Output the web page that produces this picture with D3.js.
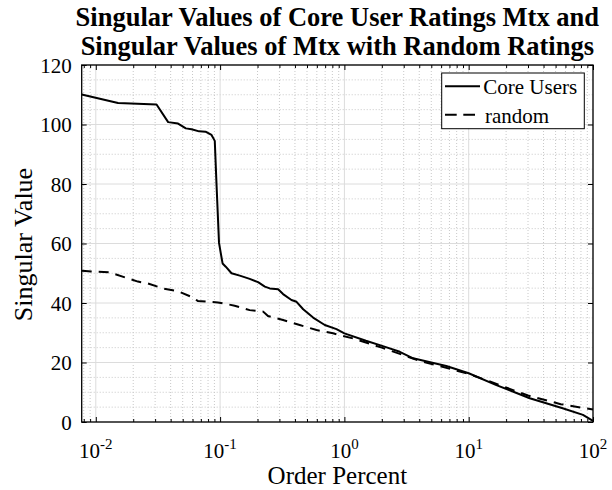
<!DOCTYPE html>
<html>
<head>
<meta charset="utf-8">
<script src="https://cdn.jsdelivr.net/npm/d3@7"></script>
<style>
  body { margin: 0; background: #fff; }
  svg text { font-family: "Liberation Serif", "Times New Roman", Times, serif; fill: #000; }
</style>
</head>
<body>
<svg width="612" height="490"></svg>
<script>
// --- Data ---
const coreX = [0.0077, 0.0151, 0.0308, 0.0382, 0.0459, 0.053, 0.0589, 0.0678, 0.0763, 0.0853,
  0.0906, 0.0935, 0.098, 0.101, 0.1047, 0.111, 0.1235, 0.144, 0.173, 0.202, 0.229, 0.251, 0.293,
  0.321, 0.375, 0.412, 0.466, 0.56, 0.695, 0.863, 1.0, 1.49, 2.04, 2.79, 3.57, 6.6, 10, 16.7,
  31, 57, 83, 100];
const coreY = [110.1, 107.2, 106.7, 100.8, 100.3, 98.7, 98.4, 97.7, 97.6, 96.5,
  94.5, 80.2, 60.2, 57.0, 53.3, 52.2, 50.0, 49.2, 48.1, 47.0, 45.5, 44.9, 44.6,
  43.0, 41.0, 40.4, 37.9, 35.1, 32.6, 31.2, 29.8, 27.3, 25.5, 23.6, 21.4, 18.8, 16.4, 12.4,
  8.0, 4.6, 2.4, 0.4];

const randX = [0.0077, 0.0129, 0.0181, 0.0218, 0.0262, 0.0346, 0.0457, 0.0585, 0.0662, 0.096,
  0.131, 0.173, 0.222, 0.243, 0.321, 0.437, 0.597, 0.81, 1.17, 2, 4, 10, 30, 55, 100];
const randY = [50.8, 50.3, 48.3, 47.2, 46.6, 44.9, 44.0, 42.1, 40.7, 40.2,
  39.1, 37.6, 37.1, 35.6, 34.3, 32.6, 30.9, 29.8, 28.1, 25.0, 20.6, 16.2, 8.9, 6.0, 4.2];

const xDomain = [0.0077, 100];
const yDomain = [0, 120];
const xMajor = [0.01, 0.1, 1, 10, 100];
const xExp = ["-2", "-1", "0", "1", "2"];
const yMajor = [0, 20, 40, 60, 80, 100, 120];
const yMinor = d3.range(0, 121, 5).filter(v => v % 20 !== 0);

const seriesNames = ["Core Users", "random"];
const titleLines = ["Singular Values of Core User Ratings Mtx and", "Singular Values of Mtx with Random Ratings"];

// --- Layout ---
const L = 81.7, R = 593, T = 65, B = 422;
const svg = d3.select("svg");

const x = d3.scaleLog().domain(xDomain).range([L, R]);
const y = d3.scaleLinear().domain(yDomain).range([B, T]);

const xAll = x.ticks(); // 1..9 multiples per decade
const xMinor = xAll.filter(v => Math.abs(Math.log10(v) - Math.round(Math.log10(v))) > 1e-9);

// --- Grid ---
const grid = svg.append("g");
grid.selectAll(".gx-minor").data(xMinor).join("line")
  .attr("x1", d => x(d)).attr("x2", d => x(d)).attr("y1", T).attr("y2", B)
  .attr("stroke", "#c8c8c8").attr("stroke-width", 1).attr("stroke-dasharray", "1,2");
grid.selectAll(".gy-minor").data(yMinor).join("line")
  .attr("x1", L).attr("x2", R).attr("y1", d => y(d)).attr("y2", d => y(d))
  .attr("stroke", "#c8c8c8").attr("stroke-width", 1).attr("stroke-dasharray", "1,2");
grid.selectAll(".gx").data(xMajor).join("line")
  .attr("x1", d => x(d)).attr("x2", d => x(d)).attr("y1", T).attr("y2", B)
  .attr("stroke", "#dcdcdc").attr("stroke-width", 1);
grid.selectAll(".gy").data(yMajor).join("line")
  .attr("x1", L).attr("x2", R).attr("y1", d => y(d)).attr("y2", d => y(d))
  .attr("stroke", "#dcdcdc").attr("stroke-width", 1);

// --- Lines ---
const line = d3.line().x(d => x(d[0])).y(d => y(d[1]));
svg.append("path")
  .datum(d3.zip(randX, randY))
  .attr("d", line).attr("fill", "none").attr("stroke", "#000")
  .attr("stroke-width", 2).attr("stroke-dasharray", "10,7");
svg.append("path")
  .datum(d3.zip(coreX, coreY))
  .attr("d", line).attr("fill", "none").attr("stroke", "#000")
  .attr("stroke-width", 2).attr("stroke-linejoin", "round");

// --- Axes (ticks inward on all four sides) ---
const ax = svg.append("g");
ax.append("g").attr("transform", `translate(0,${B})`)
  .call(d3.axisBottom(x).tickValues(xMajor).tickSize(-5).tickFormat(""));
ax.append("g").attr("transform", `translate(0,${B})`)
  .call(d3.axisBottom(x).tickValues(xMinor).tickSize(-3).tickFormat(""));
ax.append("g").attr("transform", `translate(0,${T})`)
  .call(d3.axisTop(x).tickValues(xMajor).tickSize(-5).tickFormat(""));
ax.append("g").attr("transform", `translate(0,${T})`)
  .call(d3.axisTop(x).tickValues(xMinor).tickSize(-3).tickFormat(""));
ax.append("g").attr("transform", `translate(${L},0)`)
  .call(d3.axisLeft(y).tickValues(yMajor).tickSize(-5).tickFormat(""));
ax.append("g").attr("transform", `translate(${R},0)`)
  .call(d3.axisRight(y).tickValues(yMajor).tickSize(-5).tickFormat(""));
ax.selectAll(".domain").remove();
ax.selectAll(".tick line").attr("stroke", "#000").attr("stroke-width", 1);
svg.append("rect").attr("x", L).attr("y", T).attr("width", R - L).attr("height", B - T)
  .attr("fill", "none").attr("stroke", "#000").attr("stroke-width", 1.3);

// tick labels
svg.selectAll(".ylab").data(yMajor).join("text")
  .attr("x", L - 10).attr("y", d => y(d) + 7.5)
  .attr("text-anchor", "end").attr("font-size", 21).text(d => d);

const xl = svg.selectAll(".xlab").data(xMajor).join("text")
  .attr("x", d => x(d)).attr("y", 458.3)
  .attr("text-anchor", "middle").attr("font-size", 21);
xl.append("tspan").text("10");
xl.append("tspan").attr("font-size", 15).attr("dy", -9).text((d, i) => xExp[i]);

// axis labels
svg.append("text").attr("x", (L + R) / 2).attr("y", 484)
  .attr("text-anchor", "middle").attr("font-size", 25).text("Order Percent");
svg.append("text").attr("transform", `translate(32,${(T + B) / 2 + 1}) rotate(-90)`)
  .attr("text-anchor", "middle").attr("font-size", 26).text("Singular Value");

// title
svg.selectAll(".title").data(titleLines).join("text")
  .attr("x", (L + R) / 2).attr("y", (d, i) => 26 + i * 29)
  .attr("text-anchor", "middle").attr("font-size", 26.5).attr("font-weight", "bold")
  .text(d => d);

// --- Legend ---
const lg = svg.append("g");
lg.append("rect").attr("x", 441.7).attr("y", 73).attr("width", 142.6).attr("height", 55.7)
  .attr("fill", "#fff").attr("stroke", "#000").attr("stroke-width", 1);
const dashes = [null, "11.7,6.6"];
const legEnd = [480, 475];
seriesNames.forEach((name, i) => {
  const ly = 86.3 + i * 28.4;
  lg.append("line").attr("x1", 445).attr("x2", legEnd[i]).attr("y1", ly).attr("y2", ly)
    .attr("stroke", "#000").attr("stroke-width", 2).attr("stroke-dasharray", dashes[i]);
  lg.append("text").attr("x", i ? 485 : 483.3).attr("y", ly + 8).attr("font-size", 21).text(name);
});
</script>
</body>
</html>
